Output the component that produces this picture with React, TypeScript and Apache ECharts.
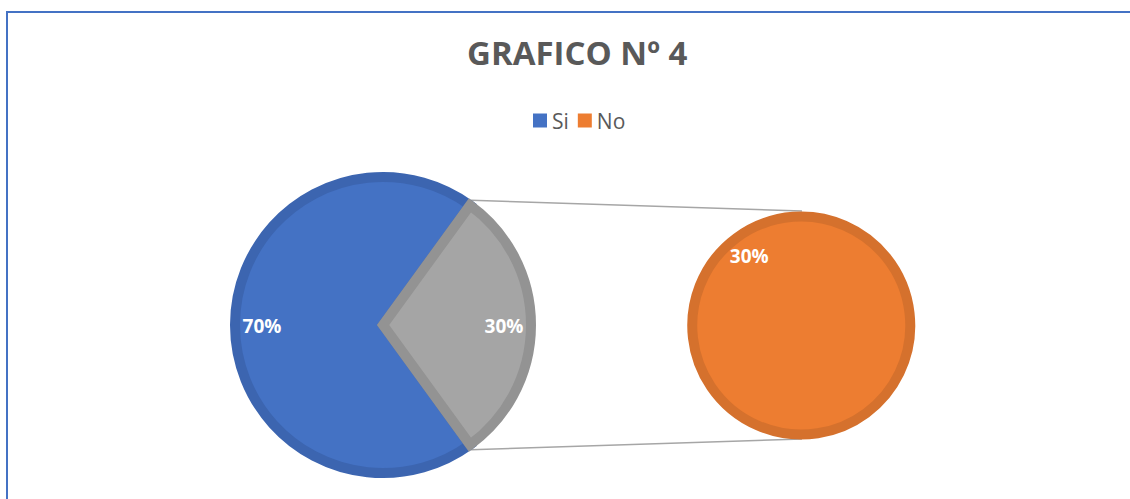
import React, { useEffect, useRef } from "react";
import * as echarts from "echarts";

const titleText = "GRAFICO Nº 4";
const mainCategories = ["Si", "Otros"];
const mainValues = [70, 30];
const subCategories = ["No"];
const subValues = [30];
const legendItems = ["Si", "No"];

const W = 1130;
const H = 499;
const leftCenter = [383, 325];
const leftRadius = 148;
const rightCenter = [802, 325];
const rightRadius = 109;
const borderW = 10;
const startAngle = 306;

export default function App() {
  const ref = useRef<HTMLDivElement>(null);
  useEffect(() => {
    if (!ref.current) return;
    const chart = echarts.init(ref.current, undefined, { renderer: "svg" });
    const outerL = leftRadius + borderW / 2;
    const outerR = rightRadius + borderW / 2;
    const otherShare = mainValues[1] / (mainValues[0] + mainValues[1]);
    const half = (otherShare * 360) / 2;
    const a = (half * Math.PI) / 180;
    const topPt = [leftCenter[0] + outerL * Math.cos(a) - 2, leftCenter[1] - outerL * Math.sin(a) - 1];
    const botPt = [leftCenter[0] + outerL * Math.cos(a) - 2, leftCenter[1] + outerL * Math.sin(a) + 1];
    const lineStyle = { stroke: "#A6A6A6", lineWidth: 1.5 };
    const font = "'Open Sans', Lato, sans-serif";
    chart.setOption({
      animation: false,
      backgroundColor: "#ffffff",
      title: {
        text: titleText,
        left: 462,
        top: 31,
        textStyle: { fontSize: 33, fontWeight: "bold", color: "#595959", fontFamily: font },
      },
      legend: {
        data: legendItems,
        top: 105,
        left: 528,
        icon: "rect",
        itemWidth: 14,
        itemHeight: 14,
        itemGap: 9,
        itemStyle: { borderWidth: 0 },
        textStyle: { fontSize: 21, color: "#595959", fontFamily: font },
      },
      graphic: [
        { type: "line", shape: { x1: 6, y1: 12, x2: W, y2: 12 }, style: { stroke: "#4472C4", lineWidth: 2 } },
        { type: "line", shape: { x1: 7, y1: 12, x2: 7, y2: H }, style: { stroke: "#4472C4", lineWidth: 2 } },
        { type: "line", z: -1, shape: { x1: topPt[0], y1: topPt[1], x2: rightCenter[0], y2: rightCenter[1] - outerR }, style: lineStyle },
        { type: "line", z: -1, shape: { x1: botPt[0], y1: botPt[1], x2: rightCenter[0], y2: rightCenter[1] + outerR }, style: lineStyle },
      ],
      series: [
        {
          type: "pie",
          center: leftCenter,
          radius: leftRadius,
          startAngle: startAngle,
          clockwise: true,
          data: [
            { name: mainCategories[0], value: mainValues[0], itemStyle: { color: "#4472C4", borderColor: "#3C65B0" } },
            { name: mainCategories[1], value: mainValues[1], itemStyle: { color: "#A5A5A5", borderColor: "#939393" } },
          ],
          itemStyle: { borderWidth: borderW, borderJoin: "miter" },
          label: {
            show: true,
            position: "inside",
            formatter: "{d}%",
            color: "#ffffff",
            fontWeight: "bold",
            fontSize: 19,
            fontFamily: font,
          },
          labelLayout: (p: any) => ({ dx: p.dataIndex === 0 ? -44 : 44, dy: 1 }),
          labelLine: { show: false },
          emphasis: { disabled: true },
          silent: true,
        },
        {
          type: "pie",
          center: rightCenter,
          radius: rightRadius,
          startAngle: startAngle,
          data: [
            { name: subCategories[0], value: subValues[0], itemStyle: { color: "#ED7D31", borderColor: "#D5712D" } },
          ],
          itemStyle: { borderWidth: borderW },
          label: {
            show: true,
            position: "inside",
            formatter: () => `${subValues[0]}%`,
            color: "#ffffff",
            fontWeight: "bold",
            fontSize: 19,
            fontFamily: font,
          },
          labelLayout: () => ({ dx: -19, dy: -22 }),
          labelLine: { show: false },
          emphasis: { disabled: true },
          silent: true,
        },
      ],
    });
    return () => chart.dispose();
  }, []);
  return <div ref={ref} style={{ position: "absolute", left: 0, top: 0, width: W, height: H }} />;
}
